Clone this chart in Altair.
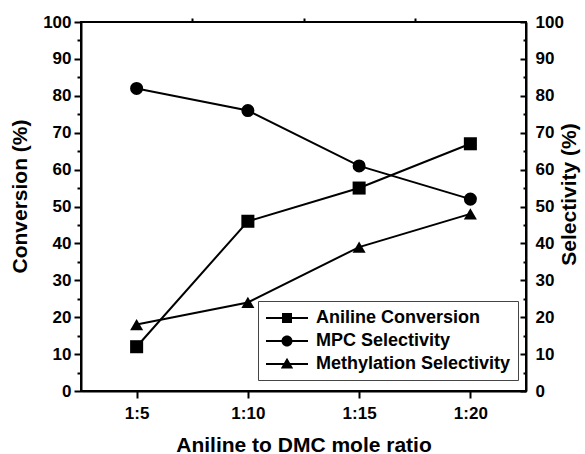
import altair as alt
import pandas as pd

ratios = ["1:5", "1:10", "1:15", "1:20"]
series = ["Aniline Conversion", "MPC Selectivity", "Methylation Selectivity"]
conversion = [12, 46, 55, 67]
mpc_sel = [82, 76, 61, 52]
methyl_sel = [18, 24, 39, 48]

major_y = list(range(0, 101, 10))
minor_y = list(range(5, 100, 10))
minor_x = [1.5, 2.5, 3.5]

rows = []
for name, vals in zip(series, [conversion, mpc_sel, methyl_sel]):
    for i, (r, v) in enumerate(zip(ratios, vals)):
        rows.append({"idx": i + 1, "ratio": r, "series": name, "value": v})
df = pd.DataFrame(rows)

FONT = "Liberation Sans"
W, H = 445, 369
LBL = dict(labelFont=FONT, labelFontSize=17, labelFontWeight=700, labelColor="black")

xscale = alt.Scale(domain=[0.5, 4.5], nice=False, zero=False)
yscale = alt.Scale(domain=[0, 100], nice=False)
label_expr = "[" + ",".join(["''"] + [f"'{r}'" for r in ratios]) + "][datum.value]"

base = alt.Chart(df)

no_x = alt.X("idx:Q", scale=xscale, axis=None)

# lines + main axes
lines = base.mark_line(color="black", strokeWidth=2).encode(
    x=alt.X("idx:Q", scale=xscale, axis=alt.Axis(
        values=[1, 2, 3, 4], labelExpr=label_expr, tickSize=7, labelPadding=7,
        title="Aniline to DMC mole ratio", titlePadding=13, grid=False, **LBL)),
    y=alt.Y("value:Q", scale=yscale, axis=alt.Axis(
        orient="left", values=major_y, tickSize=7, labelPadding=3,
        title="Conversion (%)", titleX=-61, titleY=174,
        titleBaseline="middle", grid=False, **LBL)),
    detail="series:N",
)

points = base.mark_point(filled=True, color="black", opacity=1).encode(
    x=no_x,
    y=alt.Y("value:Q", scale=yscale, axis=None),
    shape=alt.Shape("series:N", scale=alt.Scale(domain=series, range=["square", "circle", "triangle-up"]), legend=None),
    size=alt.Size("series:N", scale=alt.Scale(domain=series, range=[170, 170, 200]), legend=None),
)

# minor ticks left + bottom
minor_left = base.mark_point(opacity=0).encode(
    x=alt.X("idx:Q", scale=xscale, axis=alt.Axis(
        values=minor_x, tickSize=4, labels=False, domain=False, title=None, grid=False)),
    y=alt.Y("value:Q", scale=yscale, axis=alt.Axis(
        orient="left", values=minor_y, tickSize=4, labels=False, domain=False,
        title=None, grid=False)),
)

# right axis inward ticks (drawn as left axis shifted to the right edge)
right_major_ticks = base.mark_point(opacity=0).encode(
    x=no_x,
    y=alt.Y("value:Q", scale=yscale, axis=alt.Axis(
        orient="left", offset=-W, values=major_y, tickSize=6, labels=False,
        domain=False, title=None, grid=False)),
)
right_minor_ticks = base.mark_point(opacity=0).encode(
    x=no_x,
    y=alt.Y("value:Q", scale=yscale, axis=alt.Axis(
        orient="left", offset=-W, values=minor_y, tickSize=3, labels=False,
        domain=False, title=None, grid=False)),
)
right_labels = base.mark_point(opacity=0).encode(
    x=no_x,
    y=alt.Y("value:Q", scale=yscale, axis=alt.Axis(
        orient="right", values=major_y, ticks=False, labelPadding=9,
        title="Selectivity (%)", titleAngle=270, titleX=43, titleY=172,
        titleBaseline="middle", grid=False, **LBL)),
)

# legend layer (no marks drawn, legend built from series names)
LINE = "M-2.1,-0.1H2.1V0.1H-2.1Z"
legend_paths = [
    LINE + "M-0.5,-0.5H0.5V0.5H-0.5Z",
    LINE + "M-0.55,0A0.55,0.55,0,1,1,0.55,0A0.55,0.55,0,1,1,-0.55,0Z",
    LINE + "M0,-0.62L0.62,0.45L-0.62,0.45Z",
]
legend_layer = base.mark_point(filled=True, color="black").encode(
    x=no_x,
    y=alt.Y("value:Q", scale=yscale, axis=None),
    shape=alt.Shape("series:N", scale=alt.Scale(domain=series, range=legend_paths),
                    legend=alt.Legend(
                        title=None, orient="none", legendX=177, legendY=279,
                        symbolSize=400, symbolStrokeWidth=0, symbolOpacity=1,
                        symbolFillColor="black",
                        symbolOffset=12, labelOffset=19,
                        labelFont=FONT, labelFontSize=18,
                        labelFontWeight=700, labelColor="black",
                        rowPadding=4, padding=7, strokeColor="#444", fillColor="white",
                        labelLimit=400)),
).transform_filter("false")

chart = alt.layer(
    lines, points, minor_left, right_major_ticks, right_minor_ticks, right_labels, legend_layer
).resolve_axis(x="independent", y="independent").resolve_scale(
    shape="independent", size="independent"
).properties(
    width=W, height=H,
    padding={"left": 81, "top": 22, "right": 59, "bottom": 63},
    autosize=alt.AutoSizeParams(type="none"),
    background="white",
).configure_view(
    stroke="black", strokeWidth=2
).configure_axis(
    domainColor="black", domainWidth=2, tickColor="black", tickWidth=2,
    labelFont=FONT, labelFontSize=17, labelFontWeight="bold", labelColor="black",
    titleFont=FONT, titleFontSize=21, titleFontWeight="bold", titleColor="black",
)

chart.save("out.html", embed_options={"renderer": "svg", "actions": False})
